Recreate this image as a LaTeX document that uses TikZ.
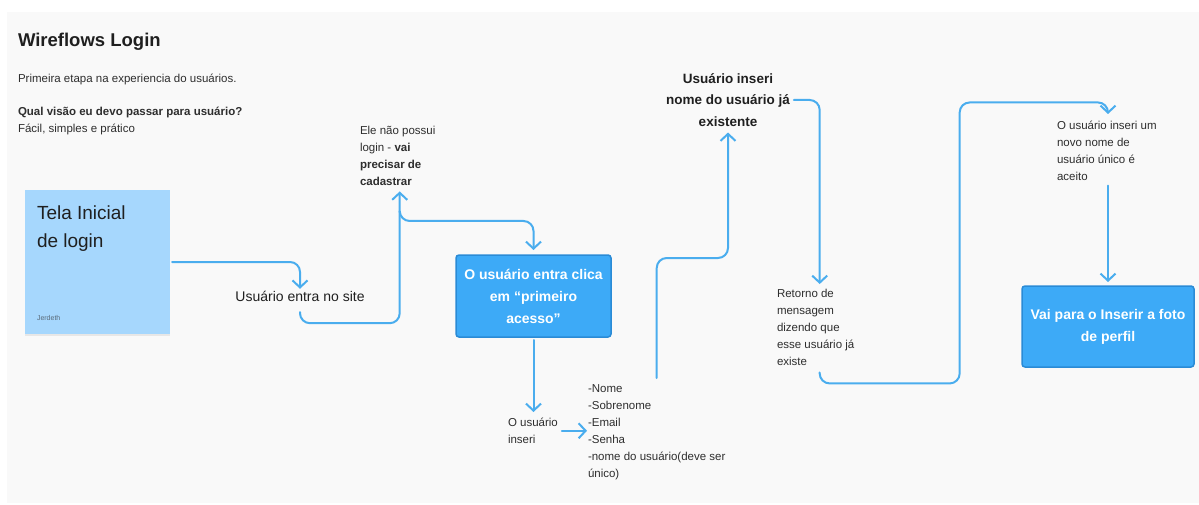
\documentclass[tikz,border=0pt]{standalone}
\usepackage{fontspec}
\setmainfont{Liberation Sans}
\usetikzlibrary{arrows.meta,shadows}

\definecolor{panel}{HTML}{F9F9F9}
\definecolor{wire}{HTML}{4AADEE}
\definecolor{stickyblue}{HTML}{A6D7FD}
\definecolor{boxblue}{HTML}{3DAAF7}
\definecolor{boxedge}{HTML}{2A8BD6}
\definecolor{ink}{HTML}{1F1F1F}
\definecolor{softink}{HTML}{2E2E2E}
\definecolor{signgray}{HTML}{5A6B7A}

\begin{document}
\begin{tikzpicture}[x=1pt,y=-1pt,
  every node/.style={inner sep=0pt, outer sep=0pt, text=ink},
  flow/.style={draw=wire, line width=2pt, rounded corners=10pt, line cap=round},
  flowtip/.style={-{Straight Barb[length=7pt,width=15pt]}},
  note/.style={font=\fontsize{11.5}{17}\selectfont, align=left, anchor=north west, text=softink},
  sticky/.style={fill=stickyblue, draw=none, minimum width=145, minimum height=144,
    drop shadow={shadow xshift=0pt, shadow yshift=-1.5pt, opacity=0.07, fill=black}},
  bigbox/.style={fill=boxblue, draw=boxedge, line width=1.5pt, rounded corners=3pt,
    text=white, align=center, font=\fontsize{14}{22}\selectfont\bfseries}
]
\useasboundingbox (0,0) rectangle (1199,505);
\fill[panel] (7,12) rectangle (1199,503);

% heading and intro
\node[anchor=north west, font=\fontsize{18.5}{24}\selectfont\bfseries] (title) at (18,33) {Wireflows Login};
\node[note] (intro) at (18,74) {Primeira etapa na experiencia do usuários.};
\node[note] (question) at (18,107) {\textbf{Qual visão eu devo passar para usuário?}\\Fácil, simples e prático};

% starting screen sticky note
\node[sticky, anchor=north west] (tela) at (25,190) {};
\node[anchor=north west, align=left, font=\fontsize{19}{28}\selectfont] (telatxt) at (37,206) {Tela Inicial\\de login};
\node[anchor=west, font=\fontsize{7}{8}\selectfont, text=signgray] (autor) at (37,318) {Jerdeth};

% flow steps
\node[font=\fontsize{14}{17}\selectfont] (entra) at (300,296) {Usuário entra no site};
\node[note] (ele) at (360,126) {Ele não possui\\login - \textbf{vai}\\\textbf{precisar de}\\\textbf{cadastrar}};
\node[bigbox, minimum width=155, minimum height=82] (acesso) at (533.5,296) {O usuário entra clica\\em “primeiro\\acesso”};
\node[note] (inseri) at (508,418) {O usuário\\inseri};
\node[note] (dados) at (588,385) {-Nome\\-Sobrenome\\-Email\\-Senha\\-nome do usuário(deve ser\\único)};
\node[font=\fontsize{13.5}{21.5}\selectfont\bfseries, align=center] (existente) at (728,100) {Usuário inseri\\nome do usuário já\\existente};
\node[note] (retorno) at (777,289) {Retorno de\\mensagem\\dizendo que\\esse usuário já\\existe};
\node[note] (unico) at (1057,121) {O usuário inseri um\\novo nome de\\usuário único é\\aceito};
\node[bigbox, minimum width=172, minimum height=81] (perfil) at (1108,326.5) {Vai para o Inserir a foto\\de perfil};

% connectors
\draw[flow, flowtip, shorten >=2pt] ([xshift=2pt]tela.east) -| (entra.north);
\draw[flow, flowtip] ([yshift=-11pt]entra.south) -- ++(0,11) -| ([xshift=2pt,yshift=-6pt]ele.south);
\draw[flow, flowtip] ([xshift=2pt,yshift=-27pt]ele.south) |- ([yshift=34pt]acesso.north) -- ([yshift=5pt]acesso.north);
\draw[flow, flowtip] ([yshift=-3pt]acesso.south) -- ([yshift=6pt]acesso.south |- inseri.north);
\draw[flow, flowtip] ([xshift=4pt]inseri.east) -- ([xshift=-1pt]inseri.east -| dados.west);
\draw[flow, flowtip] ([yshift=7pt]dados.north) -- ++(0,-120) -| ([yshift=-6pt]existente.south);
\draw[flow, flowtip] ([xshift=4pt]existente.east) -| ([xshift=4pt,yshift=5pt]retorno.north);
\draw[flow, flowtip] ([xshift=4pt,yshift=-7pt]retorno.south) |- ++(140,11) -- ++(0,-281) -| ([yshift=7pt]unico.north -| perfil.north);
\draw[flow, flowtip] ([yshift=-5pt]unico.south -| perfil.north) -- ([yshift=4pt]perfil.north);
\end{tikzpicture}
\end{document}
